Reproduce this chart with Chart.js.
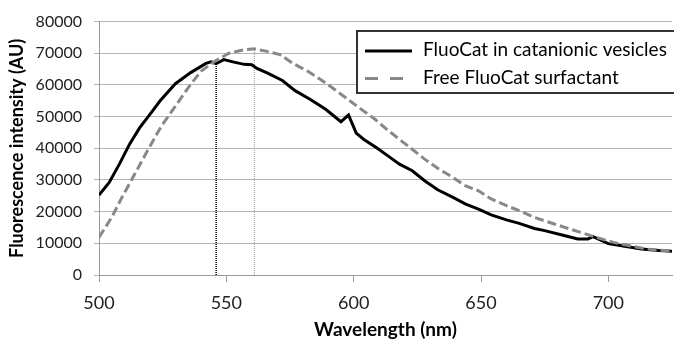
<!DOCTYPE html>
<html>
<head>
<meta charset="utf-8">
<script src="https://cdn.jsdelivr.net/npm/chart.js@4/dist/chart.umd.min.js"></script>
<style>
    body { margin: 0; background: #fff; }
    #wrap { width: 674px; height: 342px; }
</style>
</head>
<body>
<div id="wrap"><canvas id="spectrumChart" width="674" height="342"></canvas></div>
<script>
// values
const vesicleLabel = 'FluoCat in catanionic vesicles';
const vesicleWl = [500, 504, 508, 512, 516, 520, 524, 530, 536, 542, 544, 546, 549, 553, 557, 560, 562, 566, 572, 577, 583, 589, 595, 598, 601, 604, 609, 614, 618, 623, 628, 633, 639, 644, 649, 654, 660, 665, 671, 675, 683, 688, 692, 694, 700, 707, 713, 720, 725];
const vesicleVal = [25200, 29200, 35000, 41300, 46500, 50700, 55000, 60400, 63900, 66800, 67300, 66700, 68000, 67200, 66500, 66400, 65200, 63800, 61400, 58200, 55400, 52300, 48400, 50500, 44800, 42800, 40200, 37300, 35000, 32900, 29700, 26900, 24500, 22400, 20800, 19000, 17400, 16300, 14700, 14000, 12400, 11400, 11400, 12100, 9900, 9000, 8200, 7700, 7500];

const freeLabel = 'Free FluoCat surfactant';
const freeWl = [500, 505, 509, 514, 519, 524.5, 530, 535, 540, 545.5, 551, 557, 561, 566, 571, 576, 582, 587, 592, 597, 603, 608, 613, 618, 623, 628, 633, 639, 644, 649, 654, 660, 665, 671, 675, 683, 691, 696, 702, 708, 715, 722, 725];
const freeVal = [11900, 18200, 24500, 31800, 39200, 47000, 53300, 59100, 64300, 67500, 70000, 71100, 71400, 70600, 69600, 66900, 64300, 61700, 58900, 55900, 52300, 49400, 46000, 42800, 39700, 36500, 33700, 30800, 28100, 26600, 24000, 21900, 20300, 18200, 17100, 15000, 13000, 11700, 10300, 9300, 8200, 7700, 7400];

// peak markers (wavelength, intensity)
const vesiclePeak = [546, 66900];
const freePeak = [561, 71500];

const xTicks = [500, 550, 600, 650, 700];

function toPoints(xs, ys) {
    return xs.map((x, i) => ({ x: x, y: ys[i] }));
}

const FONT = 'Lato, "Open Sans", sans-serif';

// legend drawn inside the plot, like the original
const boxLegend = {
    id: 'boxLegend',
    afterDraw(chart) {
        const ctx = chart.ctx;
        const items = chart.data.datasets.filter(d => d.label);
        ctx.save();
        ctx.fillStyle = '#fff';
        ctx.fillRect(357, 30, 320, 63);
        ctx.strokeStyle = '#333';
        ctx.lineWidth = 2;
        ctx.strokeRect(357, 31, 320, 62);
        items.forEach((d, i) => {
            const y = 51 + i * 27.5;
            ctx.beginPath();
            ctx.strokeStyle = d.borderColor;
            ctx.lineWidth = 3;
            ctx.setLineDash(d.borderDash ? [13, 12] : []);
            ctx.moveTo(365, y);
            ctx.lineTo(412, y);
            ctx.stroke();
            ctx.setLineDash([]);
            ctx.fillStyle = '#000';
            ctx.font = '19px ' + FONT;
            ctx.textBaseline = 'middle';
            ctx.fillText(d.label, 423, y - 1);
        });
        ctx.restore();
    }
};

const ctx = document.getElementById('spectrumChart').getContext('2d');
new Chart(ctx, {
    type: 'line',
    data: {
        datasets: [
            {
                label: vesicleLabel,
                data: toPoints(vesicleWl, vesicleVal),
                borderColor: '#000',
                borderWidth: 3,
                pointRadius: 0,
                order: 2
            },
            {
                label: freeLabel,
                data: toPoints(freeWl, freeVal),
                borderColor: '#888',
                borderWidth: 3,
                borderDash: [9, 4],
                pointRadius: 0,
                order: 1
            },
            {
                data: toPoints([vesiclePeak[0], vesiclePeak[0]], [0, vesiclePeak[1]]),
                borderColor: '#000',
                borderWidth: 1.5,
                borderDash: [1, 1],
                pointRadius: 0,
                order: 3
            },
            {
                data: toPoints([freePeak[0], freePeak[0]], [0, freePeak[1]]),
                borderColor: '#999',
                borderWidth: 1,
                borderDash: [1, 1],
                pointRadius: 0,
                order: 3
            }
        ]
    },
    options: {
        responsive: false,
        animation: false,
        layout: { padding: { top: 19, right: 2, left: 0, bottom: 0 } },
        plugins: {
            legend: { display: false },
            tooltip: { enabled: false }
        },
        scales: {
            x: {
                type: 'linear',
                min: 500,
                max: 725,
                afterFit: function (scale) { scale.height = 67; },
                afterBuildTicks: function (scale) {
                    scale.ticks = xTicks.map(v => ({ value: v }));
                },
                grid: { drawOnChartArea: false, drawTicks: true, tickLength: 7, color: '#999' },
                border: { color: '#999' },
                ticks: {
                    font: { family: FONT, size: 18 },
                    color: '#222',
                    padding: 10,
                    maxRotation: 0,
                    callback: v => String(v)
                },
                title: {
                    display: true,
                    text: 'Wavelength (nm)',
                    font: { family: FONT, size: 19, weight: 'bold' },
                    color: '#000',
                    padding: { top: 0, bottom: 1 }
                }
            },
            y: {
                min: 0,
                max: 80000,
                afterFit: function (scale) { scale.width = 99; },
                grid: { color: '#b5b5b5', tickLength: 5 },
                border: { color: '#999' },
                ticks: {
                    stepSize: 10000,
                    font: { family: FONT, size: 16 },
                    color: '#222',
                    padding: 12,
                    callback: v => String(v)
                },
                title: {
                    display: true,
                    text: 'Fluorescence intensity (AU)',
                    font: { family: FONT, size: 18, weight: 'bold' },
                    color: '#000',
                    padding: { top: 6, bottom: 0 }
                }
            }
        }
    },
    plugins: [boxLegend]
});
</script>
</body>
</html>
